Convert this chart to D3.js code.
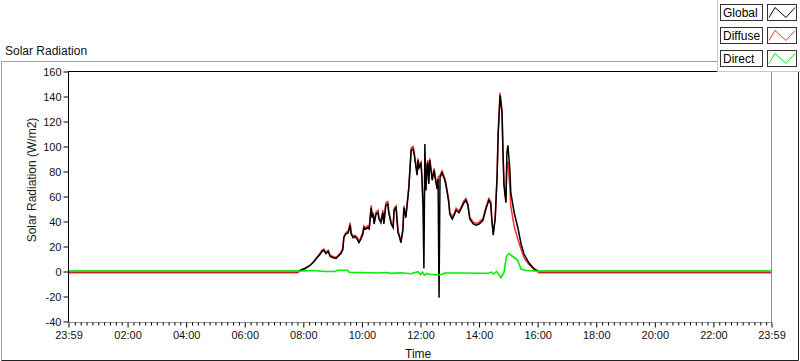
<!DOCTYPE html>
<html>
<head>
<meta charset="utf-8">
<script src="https://d3js.org/d3.v7.min.js"></script>
<style>
  body { margin: 0; background: #fff; }
  svg { display: block; font-family: "Liberation Sans", Arial, sans-serif; }
  .tick text { fill: #111; }
</style>
</head>
<body>
<svg width="800" height="361"></svg>
<script>
// sample times for global + diffuse
const times = ["00:00","07:47","07:49","07:55","08:03","08:10","08:16","08:22","08:28","08:34","08:38","08:42","08:46","08:51","08:55",
  "09:01","09:07","09:13","09:17","09:21","09:23","09:27","09:32","09:36","09:38","09:42","09:46","09:50","09:54","09:58",
  "10:02","10:04","10:08","10:12","10:15","10:19","10:21","10:23","10:25","10:29","10:33","10:35","10:39","10:43","10:45","10:49","10:53","10:55",
  "11:00","11:04","11:06","11:10","11:14","11:16","11:20","11:24","11:26","11:30","11:36","11:41","11:45","11:47","11:51","11:53","11:55","11:57",
  "12:01","12:03","12:05","12:07","12:09","12:11","12:14","12:15","12:17","12:19","12:24","12:28","12:30","12:34","12:36","12:38","12:40","12:44","12:46","12:50","12:54","12:58",
  "13:00","13:05","13:09","13:13","13:19","13:23","13:29","13:33","13:37","13:41","13:48","13:54",
  "14:00","14:08","14:14","14:20","14:24","14:26","14:29","14:33","14:37","14:39","14:43","14:47","14:49","14:51","14:55","14:57","14:59",
  "15:03","15:05","15:12","15:20","15:26","15:32","15:42","15:53","16:03","23:59"];

const globalRad = [0,0,0,1.2,2.4,4,5.6,8,11,13.6,16,17,14.4,16,12,
  11,10.4,12.8,14.4,17.6,27,30,31,37,30,27,28,26,23,26,
  30,35,34,35,34,51,43,46,38,46,47,42,39,47,38,53,54,47,
  38,35,49,51,31,29,23,33,51,43,66,97,98,94,83,77,89,83,
  86,75,53,2.4,102,65,86,87,70,89,73,81,75,66,74,-21,75,79,77,73,65,55,
  46,42,45,49,47,50,55,57,53,42,38,37,
  38,41,50,57,54,42,29,42,77,109,141,127,95,69,55,95,101,
  82,63,47,34,22,14,7,2,0,0];

const diffuseRad = [-1,-1,-0.8,0.8,2.2,4,5.8,8.5,11.5,14.5,17,18,15.5,17,13,
  12,11.2,13.6,15.5,19,28,31,32.5,39,31,28.5,29,27.5,24.5,27.5,
  31.5,36.5,35,36.5,35.5,53,44,47.5,39.5,47.5,49,43.5,40.5,49,39.5,55,56,48.5,
  39.5,36,50.5,52.5,32.5,30,24.5,34.5,52.5,44.5,67.5,99,100,95.5,84.5,78.5,90.5,84.5,
  87.5,76.5,55,56,68,66.5,87.5,89,71.5,90.5,74.5,82.5,76.5,67.5,75.5,76,77,80.5,78.5,74.5,66.5,56.5,
  47.5,43.5,46.5,50.5,48.5,51.5,56.5,58.5,54.5,43.5,39.5,38.5,
  39.5,42.5,51.5,58.5,56,42.5,31,43,77,111,143,129,97,71,56,84,88,
  68,52,36,25,18,11,5.5,1.5,-1,-1];

// direct has its own sample times
const directTimes = ["00:00","07:49","08:20","08:45","09:05","09:10","09:30","09:35","10:00","10:30","10:50","11:00","11:20","11:40","11:55",
  "12:00","12:04","12:08","12:12","12:18","12:30","12:40","12:50","13:30","14:00","14:20","14:26","14:30","14:36","14:45","14:51",
  "14:56","15:01","15:09","15:19","15:26","15:36","16:03","23:59"];
const directRad = [0.3,0.3,0.8,0,0,1,1,-0.8,-0.8,-1.2,-0.8,-1.5,-1,-1.8,-0.2,
  -2.5,-0.5,-3,-1.5,-2.2,-2.5,-2.8,-1.2,-1.2,-1.4,-1.4,-0.5,-2,0,-5,-0.8,
  12,14.4,12,9,2,0.8,0.3,0.3];

const yTicks = [-40,-20,0,20,40,60,80,100,120,140,160];
const xTickLabels = ["23:59","02:00","04:00","06:00","08:00","10:00","12:00","14:00","16:00","18:00","20:00","22:00","23:59"];

const seriesNames = ["Global","Diffuse","Direct"];
const seriesColors = ["#000000","#ff3030","#00ee00"];

const svg = d3.select("svg");
const parse = d3.timeParse("%Y-%m-%d %H:%M");
const day = s => parse("2000-01-02 " + s);
const t0 = parse("2000-01-01 23:59"), t1 = parse("2000-01-02 23:59");

const x = d3.scaleTime().domain([t0, t1]).range([68.5, 771.5]);
const y = d3.scaleLinear().domain([-40, 160]).range([321.5, 71.5]);

// outer frame
svg.append("path").attr("d", "M1.5,360.5 V61.5 H717").attr("fill", "none").attr("stroke", "#a0a0a0");
svg.append("path").attr("d", "M1.5,360.5 H798.5 V72").attr("fill", "none").attr("stroke", "#222");

svg.append("text").attr("x", 5).attr("y", 55).style("font-size", "12px").attr("fill", "#111").text("Solar Radiation");

// plot box
svg.append("line").attr("x1", 68.5).attr("x2", 771.5).attr("y1", 322.5).attr("y2", 322.5).attr("stroke", "#909090");
svg.append("line").attr("x1", 771.5).attr("x2", 771.5).attr("y1", 71).attr("y2", 323).attr("stroke", "#909090");

svg.append("clipPath").attr("id", "clip").append("rect")
  .attr("x", 69).attr("y", 72).attr("width", 702).attr("height", 250);

const g = svg.append("g").attr("clip-path", "url(#clip)");

const line = d3.line().x(d => x(d.t)).y(d => y(d.v));

const dataGlobal = times.map((s, i) => ({ t: day(s), v: globalRad[i] }));
const dataDiffuse = times.map((s, i) => ({ t: day(s), v: diffuseRad[i] }));
const dataDirect = directTimes.map((s, i) => ({ t: day(s), v: directRad[i] }));
dataGlobal[0].t = t0; dataDiffuse[0].t = t0; dataDirect[0].t = t0;

g.append("path").datum(dataDiffuse).attr("d", line).attr("fill", "none").attr("stroke", seriesColors[1]).attr("stroke-width", 1.5);
g.append("path").datum(dataGlobal).attr("d", line).attr("fill", "none").attr("stroke", seriesColors[0]).attr("stroke-width", 1.5);
g.append("path").datum(dataDirect).attr("d", line).attr("fill", "none").attr("stroke", seriesColors[2]).attr("stroke-width", 1.6);

svg.append("line").attr("x1", 68).attr("x2", 771.5).attr("y1", 71.5).attr("y2", 71.5).attr("stroke", "#000");

// y axis
const yAxis = svg.append("g").attr("transform", "translate(68.5,0)")
  .call(d3.axisLeft(y).tickValues(yTicks).tickSize(5).tickPadding(2).tickSizeOuter(0).tickFormat(d => String(d)));
yAxis.select(".domain").attr("stroke", "#000").attr("d", "M0,71V322");
yAxis.selectAll("text").style("font-size", "11px");

// x axis
const majors = [t0].concat(d3.timeHour.every(2).range(day("02:00"), day("23:00"))).concat([t1]);
const minors = d3.timeMinute.every(12).range(day("00:00"), t1).filter(d => d.getMinutes() !== 0 || d.getHours() % 2 !== 0);
const xMinor = svg.append("g").attr("transform", "translate(0,322.5)")
  .call(d3.axisBottom(x).tickValues(minors.filter(d => +d !== +day("00:00"))).tickSize(3).tickFormat(""));
xMinor.select(".domain").remove();
const xAxis = svg.append("g").attr("transform", "translate(0,322.5)")
  .call(d3.axisBottom(x).tickValues(majors).tickSize(5).tickPadding(4).tickFormat((d, i) => xTickLabels[i]));
xAxis.select(".domain").remove();
xAxis.selectAll("text").style("font-size", "11px");

svg.append("text").attr("x", 405).attr("y", 358).style("font-size", "12px").attr("fill", "#111").text("Time");
svg.append("text").attr("transform", "translate(36,180) rotate(-90)").attr("text-anchor", "middle")
  .style("font-size", "12px").attr("fill", "#1a1a1a").text("Solar Radiation (W/m2)");

// legend
const leg = svg.append("g");
leg.append("path").attr("d", "M717.5,0 V71.5 H800").attr("fill", "#fff").attr("stroke", "#c8c8c8");
seriesNames.forEach((name, i) => {
  const top = 4.5 + i * 23;
  leg.append("rect").attr("x", 720.5).attr("y", top).attr("width", 42).attr("height", 16)
    .attr("fill", "#fff").attr("stroke", "#333");
  leg.append("text").attr("x", 723).attr("y", top + 12.5).style("font-size", "12px").attr("fill", "#000").text(name);
  leg.append("rect").attr("x", 767.5).attr("y", top).attr("width", 29).attr("height", 16)
    .attr("fill", "#fff").attr("stroke", "#333");
  leg.append("path").attr("d", `M${769},${top + 13} L${775},${top + 3} L${786},${top + 13} L${795},${top + 3}`)
    .attr("fill", "none").attr("stroke", seriesColors[i]).attr("stroke-width", 1);
});
</script>
</body>
</html>
